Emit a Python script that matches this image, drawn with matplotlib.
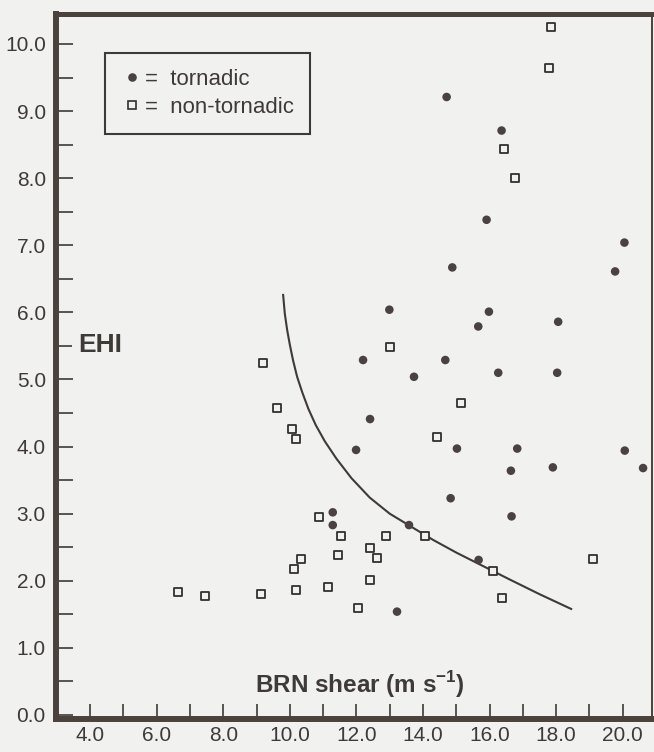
import matplotlib
matplotlib.use("Agg")
import matplotlib.pyplot as plt
from matplotlib.lines import Line2D

plt.rcParams['font.family'] = ['Liberation Sans', 'DejaVu Sans']
plt.rcParams['mathtext.fontset'] = 'custom'
plt.rcParams['mathtext.rm'] = 'Liberation Sans'
plt.rcParams['mathtext.bf'] = 'Liberation Sans:bold'

# --- data ---
tor_brn = [14.71, 16.36, 15.91, 20.05, 14.88, 19.77, 12.99, 15.98, 15.66, 18.06,
           12.20, 14.67, 13.73, 16.26, 18.03, 12.41, 11.99, 15.02, 16.83, 20.06,
           16.64, 17.90, 20.61, 14.83, 16.66, 11.29, 11.29, 13.58, 15.67, 13.22]
tor_ehi = [9.21, 8.71, 7.38, 7.04, 6.67, 6.61, 6.04, 6.01, 5.79, 5.86,
           5.29, 5.29, 5.04, 5.10, 5.10, 4.41, 3.95, 3.97, 3.97, 3.94,
           3.64, 3.69, 3.68, 3.23, 2.96, 3.02, 2.83, 2.83, 2.31, 1.54]

non_brn = [17.84, 17.78, 16.43, 16.76, 13.01, 9.20, 9.63, 15.15, 14.43, 10.06,
           10.18, 10.88, 11.55, 12.88, 14.06, 12.42, 12.61, 11.46, 10.34, 10.13,
           12.42, 19.12, 16.10, 10.18, 11.15, 9.14, 7.45, 6.63, 12.05, 16.38]
non_ehi = [10.26, 9.64, 8.43, 8.01, 5.49, 5.24, 4.57, 4.65, 4.15, 4.26,
           4.12, 2.95, 2.67, 2.67, 2.66, 2.49, 2.34, 2.38, 2.32, 2.17,
           2.01, 2.33, 2.15, 1.86, 1.90, 1.80, 1.78, 1.83, 1.60, 1.74]

curve_brn = [9.80, 9.85, 9.92, 10.00, 10.10, 10.22, 10.38, 10.56, 10.78, 11.05,
             11.40, 11.85, 12.40, 13.00, 13.60, 14.30, 15.00, 15.80, 16.60, 17.50, 18.45]
curve_ehi = [6.26, 5.98, 5.74, 5.52, 5.28, 5.04, 4.80, 4.56, 4.32, 4.08,
             3.82, 3.53, 3.24, 3.00, 2.82, 2.61, 2.42, 2.22, 2.02, 1.80, 1.58]

ytick_major = [0.0, 1.0, 2.0, 3.0, 4.0, 5.0, 6.0, 7.0, 8.0, 9.0, 10.0]
xtick_major = [4.0, 6.0, 8.0, 10.0, 12.0, 14.0, 16.0, 18.0, 20.0]

BG = '#f1f1ef'
INK = '#3e3a38'
SPINE = '#4b423e'

fig = plt.figure(figsize=(6.54, 7.52), dpi=100, facecolor=BG)
ax = fig.add_axes([0.0849, 0.0439, 0.912, 0.9375], facecolor=BG)

ax.plot(curve_brn, curve_ehi, color=INK, lw=1.5, zorder=2)
ax.scatter(tor_brn, tor_ehi, s=38, marker='o', color='#4a4242',
           edgecolors='none', zorder=3)
ax.scatter(non_brn, non_ehi, s=38, marker='s', facecolors=BG,
           edgecolors='#333030', linewidths=1.3, zorder=3)

ax.set_xlim(2.964, 20.877)
ax.set_ylim(-0.06, 10.447)

yt = [v * 0.5 for v in range(0, 21)]
ax.set_yticks(yt)
ax.set_yticklabels([f"{v:.1f}" if v in ytick_major else "" for v in yt])
ax.set_xticks(list(range(4, 21)))
ax.set_xticklabels([f"{v:.1f}" if v in xtick_major else "" for v in range(4, 21)])

ax.tick_params(axis='y', direction='in', length=12, width=1.2, color=INK,
               labelsize=15, labelcolor=INK, pad=7)
ax.tick_params(axis='x', direction='in', length=11, width=1.2, color=INK,
               labelsize=15, labelcolor=INK, pad=5)

for side, lw in [('left', 4.3), ('bottom', 4.3), ('top', 3.6), ('right', 1.4)]:
    ax.spines[side].set_linewidth(lw)
    ax.spines[side].set_color(SPINE)

ax.text(0.0377, 0.5305, 'EHI', transform=ax.transAxes, ha='left', va='center',
        fontsize=19, fontweight='bold', color=INK,
        bbox=dict(facecolor=BG, edgecolor='none', pad=4), zorder=4)
ax.text(0.5105, 0.0369, 'BRN shear (m s$^{\\mathbf{-1}}$)', transform=ax.transAxes,
        ha='center', va='baseline', fontsize=17.5, fontweight='bold', color=INK)

handles = [Line2D([], [], ls='none', marker='o', markersize=6.2, color='#4a4242', mec='none'),
           Line2D([], [], ls='none', marker='s', markersize=6, mfc=BG, mec='#333030', mew=1.2)]
leg = ax.legend(handles, ['=  tornadic', '=  non-tornadic'], loc='upper left',
                bbox_to_anchor=(0.083, 0.9447), borderaxespad=0, fontsize=16,
                frameon=True, fancybox=False, edgecolor=INK, facecolor=BG,
                framealpha=1, handlelength=0.95, handletextpad=0.15,
                labelspacing=0.32, borderpad=0.72)
leg.get_frame().set_linewidth(1.5)
for t in leg.get_texts():
    t.set_color(INK)

fig.savefig('out.png', dpi=100, facecolor=BG)
